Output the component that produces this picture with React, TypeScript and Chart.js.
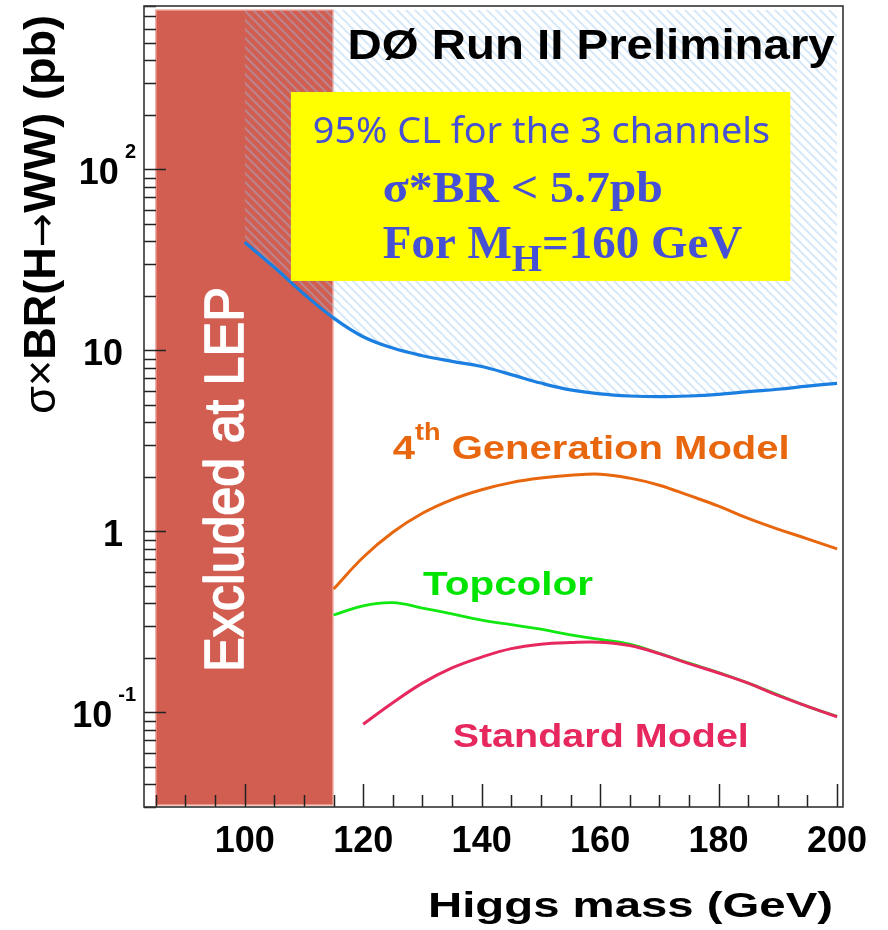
import React, { useEffect, useRef } from 'react';
import { Chart, registerables } from 'chart.js';

Chart.register(...registerables);

// ---------------- data ----------------
const massLimit = [100, 105, 110, 115, 120, 125, 130, 135, 140, 145, 150, 155, 160, 165, 170, 175, 180, 185, 190, 195, 200];
const xsecLimit = [39.6, 28.8, 20.5, 15.1, 11.9, 10.3, 9.35, 8.7, 8.15, 7.35, 6.6, 6.05, 5.75, 5.6, 5.55, 5.6, 5.72, 5.92, 6.1, 6.35, 6.58];

const mass4th = [115, 120, 125, 130, 135, 140, 145, 150, 155, 160, 165, 170, 175, 180, 185, 190, 195, 200];
const xsec4th = [0.48, 0.72, 0.99, 1.26, 1.5, 1.7, 1.86, 1.97, 2.04, 2.07, 1.97, 1.8, 1.58, 1.38, 1.18, 1.03, 0.91, 0.8];

const massTopcolor = [115, 120, 125, 130, 135, 140, 145, 150, 155, 160, 165, 170, 175, 180, 185, 190, 195, 200];
const xsecTopcolor = [0.345, 0.388, 0.404, 0.377, 0.35, 0.323, 0.305, 0.288, 0.268, 0.253, 0.238, 0.212, 0.187, 0.166, 0.145, 0.125, 0.108, 0.095];

const massSM = [120, 125, 130, 135, 140, 145, 150, 155, 160, 165, 170, 175, 180, 185, 190, 195, 200];
const xsecSM = [0.086, 0.113, 0.145, 0.176, 0.202, 0.225, 0.238, 0.243, 0.244, 0.234, 0.211, 0.186, 0.165, 0.145, 0.124, 0.108, 0.0946];

const lepExcluded = [85, 114.9]; // GeV
const xTickValues = [100, 120, 140, 160, 180, 200];
const xTickLabels = ['100', '120', '140', '160', '180', '200'];
const yTickValues = [0.1, 1, 10, 100];
const yTickBase = ['10', '1', '10', '10'];
const yTickExp = ['-1', '', '', '2'];

const SANS = '"Liberation Sans", Arial, Helvetica, sans-serif';
const SERIF = '"Liberation Serif", "Times New Roman", serif';
const ROUND = '"Noto Sans", "Open Sans", sans-serif';

type Run = { text: string; font: string; dy?: number };

function drawRuns(
  ctx: CanvasRenderingContext2D,
  runs: Run[],
  x: number,
  y: number,
  color: string,
  width?: number,
  rotate = false,
  align: 'left' | 'center' | 'right' = 'left',
  strokeW = 0
) {
  const widths = runs.map((r) => {
    ctx.font = r.font;
    return ctx.measureText(r.text).width;
  });
  const natural = widths.reduce((s, w) => s + w, 0);
  const sx = width ? width / natural : 1;
  ctx.save();
  ctx.translate(x, y);
  if (rotate) ctx.rotate(-Math.PI / 2);
  ctx.scale(sx, 1);
  ctx.fillStyle = color;
  ctx.strokeStyle = color;
  ctx.lineWidth = strokeW;
  ctx.lineJoin = 'round';
  ctx.textAlign = 'left';
  ctx.textBaseline = 'alphabetic';
  let cx = align === 'center' ? -natural / 2 : align === 'right' ? -natural : 0;
  runs.forEach((r, i) => {
    ctx.font = r.font;
    ctx.fillText(r.text, cx, r.dy || 0);
    if (strokeW > 0) ctx.strokeText(r.text, cx, r.dy || 0);
    cx += widths[i];
  });
  ctx.restore();
}

const annotPlugin = {
  id: 'hepAnnot',
  beforeDatasetsDraw(chart: any) {
    const { ctx, scales } = chart;
    const xs = scales.x, ys = scales.y;
    const x0 = xs.getPixelForValue(lepExcluded[0]);
    const x1 = xs.getPixelForValue(lepExcluded[1]);
    const yT = ys.getPixelForValue(760);
    const yB = ys.getPixelForValue(0.0308);
    ctx.save();
    ctx.fillStyle = '#D25E52';
    ctx.fillRect(x0, yT, x1 - x0, yB - yT);
    ctx.strokeStyle = 'rgba(238,165,155,0.9)';
    ctx.lineWidth = 1.5;
    ctx.strokeRect(x0, yT, x1 - x0, yB - yT);
    ctx.restore();
  },
  afterDatasetsDraw(chart: any) {
    const { ctx, chartArea: a, scales } = chart;
    const xs = scales.x, ys = scales.y;
    const px = (v: number) => xs.getPixelForValue(v);
    const py = (v: number) => ys.getPixelForValue(v);

    // yellow box
    ctx.save();
    ctx.fillStyle = '#FFFF00';
    const bx0 = px(107.8), bx1 = px(192.1), by0 = py(268), by1 = py(24.2);
    ctx.fillRect(bx0, by0, bx1 - bx0, by1 - by0);
    ctx.restore();

    const BLUE_TXT = '#4650D4';
    drawRuns(ctx, [{ text: '95% CL for the 3 channels', font: `36px ${ROUND}` }], px(111.5), py(139.5), BLUE_TXT, px(188.7) - px(111.5));
    drawRuns(ctx, [{ text: 'σ*BR < 5.7pb', font: `bold 44px ${SERIF}` }], px(123.3), py(66.4), BLUE_TXT, px(170.6) - px(123.3));
    drawRuns(
      ctx,
      [
        { text: 'For M', font: `bold 46px ${SERIF}` },
        { text: 'H', font: `bold 38px ${SERIF}`, dy: 13 },
        { text: '=160 GeV', font: `bold 46px ${SERIF}` },
      ],
      px(123.3), py(32.3), BLUE_TXT, px(184.0) - px(123.3)
    );

    drawRuns(ctx, [{ text: 'DØ Run II Preliminary', font: `bold 43px ${SANS}` }], px(117.35), py(406), '#000', px(199.6) - px(117.35));

    drawRuns(
      ctx,
      [
        { text: '4', font: `bold 34px ${SANS}` },
        { text: 'th', font: `bold 23px ${SANS}`, dy: -19 },
        { text: ' Generation Model', font: `bold 34px ${SANS}` },
      ],
      px(125.0), py(2.505), '#E8670E', px(192.0) - px(125.0)
    );
    drawRuns(ctx, [{ text: 'Topcolor', font: `bold 34px ${SANS}` }], px(130.1), py(0.4457), '#00E400', px(158.8) - px(130.1));
    drawRuns(ctx, [{ text: 'Standard Model', font: `bold 34px ${SANS}` }], px(135.1), py(0.0647), '#E6285F', px(185.1) - px(135.1));

    // Excluded at LEP (vertical)
    drawRuns(ctx, [{ text: 'Excluded at LEP', font: `56px ${SANS}` }], px(99.7), py(0.1674), '#FFFFFF', py(0.1674) - py(22.4), true, 'left', 1.6);

    // ticks
    ctx.save();
    ctx.strokeStyle = '#222';
    ctx.lineWidth = 1.5;
    ctx.beginPath();
    for (let m = 85; m <= 200; m += 5) {
      const xx = Math.round(px(m)) + 0.5;
      const len = m % 20 === 0 ? 23 : 12;
      ctx.moveTo(xx, a.bottom);
      ctx.lineTo(xx, a.bottom - len);
    }
    for (let d = -2; d <= 2; d++) {
      for (let k = 1; k <= 9; k++) {
        const v = k * Math.pow(10, d);
        if (v < 0.03 || v > 800) continue;
        const yy = Math.round(py(v)) + 0.5;
        const len = k === 1 ? 22 : 12;
        ctx.moveTo(a.left, yy);
        ctx.lineTo(a.left + len, yy);
      }
    }
    ctx.stroke();
    // frame
    ctx.strokeStyle = '#333';
    ctx.lineWidth = 1.6;
    ctx.strokeRect(a.left, a.top, a.right - a.left, a.bottom - a.top);
    ctx.restore();

    // x tick labels
    xTickValues.forEach((v, i) => {
      drawRuns(ctx, [{ text: xTickLabels[i], font: `bold 36px ${SANS}` }], px(v), a.bottom + 45, '#000', undefined, false, 'center');
    });
    // y tick labels
    yTickValues.forEach((v, i) => {
      const yy = py(v) + 15;
      if (yTickExp[i]) {
        ctx.font = `bold 20px ${SANS}`;
        const ew = ctx.measureText(yTickExp[i]).width;
        const expLeft = a.left - 8 - ew;
        drawRuns(ctx, [{ text: yTickExp[i], font: `bold 20px ${SANS}` }], expLeft, yy - 26, '#000');
        drawRuns(ctx, [{ text: yTickBase[i], font: `bold 36px ${SANS}` }], expLeft - 6, yy, '#000', undefined, false, 'right');
      } else {
        drawRuns(ctx, [{ text: yTickBase[i], font: `bold 36px ${SANS}` }], a.left - 21, yy, '#000', undefined, false, 'right');
      }
    });

    // axis titles
    drawRuns(ctx, [{ text: 'Higgs mass (GeV)', font: `bold 35px ${SANS}` }], a.right - 10, a.bottom + 110, '#000', 405, false, 'right');
    drawRuns(
      ctx,
      [
        { text: 'σ×', font: `44px ${SANS}` },
        { text: 'BR(H', font: `bold 44px ${SANS}` },
        { text: '→', font: `40px "DejaVu Sans", sans-serif` },
        { text: 'WW) (pb)', font: `bold 44px ${SANS}` },
      ],
      a.left - 89, a.top + 408, '#000', 399, true
    );
  },
};

export default function App() {
  const ref = useRef<HTMLCanvasElement | null>(null);

  useEffect(() => {
    const canvas = ref.current;
    if (!canvas) return;
    const ctx = canvas.getContext('2d')!;

    const P = 9;
    const pc = document.createElement('canvas');
    pc.width = P;
    pc.height = P;
    const g = pc.getContext('2d')!;
    g.strokeStyle = 'rgba(150,195,240,0.38)';
    g.lineWidth = 2;
    g.beginPath();
    g.moveTo(-1, -1); g.lineTo(P + 1, P + 1);
    g.moveTo(-2, P - 2); g.lineTo(2, P + 2);
    g.moveTo(P - 2, -2); g.lineTo(P + 2, 2);
    g.stroke();
    const hatch = ctx.createPattern(pc, 'repeat');

    const toXY = (xs: number[], ys: number[]) => xs.map((x, i) => ({ x, y: ys[i] }));

    const chart = new Chart(ctx, {
      type: 'line',
      data: {
        datasets: [
          {
            label: '95% CL limit',
            data: toXY(massLimit, xsecLimit),
            borderColor: '#1A7FE0',
            borderWidth: 3.2,
            pointRadius: 0,
            tension: 0.4,
            backgroundColor: hatch as any,
            fill: { value: 760 } as any,
          },
          {
            label: '4th Generation Model',
            data: toXY(mass4th, xsec4th),
            borderColor: '#E8670E',
            borderWidth: 3,
            pointRadius: 0,
            tension: 0.4,
            fill: false,
          },
          {
            label: 'Standard Model',
            data: toXY(massSM, xsecSM),
            borderColor: '#E6285F',
            borderWidth: 3,
            pointRadius: 0,
            tension: 0.4,
            fill: false,
          },
          {
            label: 'Topcolor',
            data: toXY(massTopcolor, xsecTopcolor),
            borderColor: '#11E811',
            borderWidth: 2.8,
            pointRadius: 0,
            tension: 0.4,
            fill: false,
          },
        ],
      },
      options: {
        animation: false,
        responsive: false,
        devicePixelRatio: 1,
        layout: { padding: { left: 144, top: 6, right: 45, bottom: 123 } },
        plugins: { legend: { display: false }, tooltip: { enabled: false } },
        scales: {
          x: { type: 'linear', min: 83, max: 201, display: false },
          y: { type: 'logarithmic', min: 0.03, max: 800, display: false },
        },
      },
      plugins: [annotPlugin],
    });
    return () => chart.destroy();
  }, []);

  return (
    <div style={{ position: 'absolute', left: 0, top: 0, width: 888, height: 930, background: '#fff' }}>
      <canvas ref={ref} width={888} height={930} style={{ display: 'block', width: 888, height: 930 }} />
    </div>
  );
}
